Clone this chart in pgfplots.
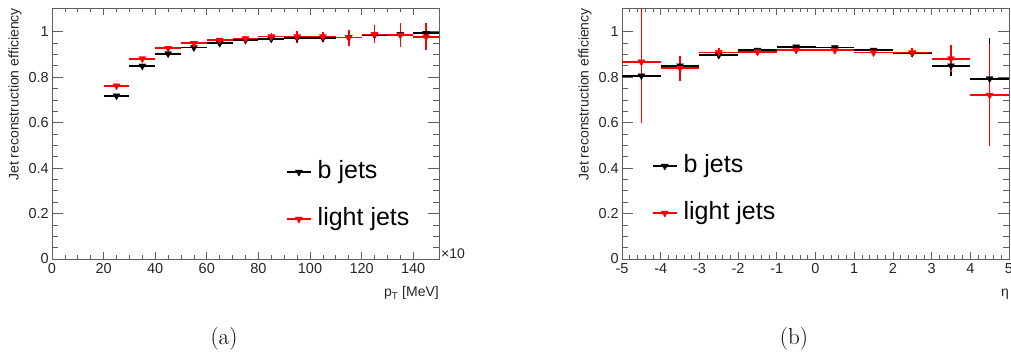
\documentclass[border=0pt]{standalone}
\usepackage{fontspec}
\usepackage{pgfplots}
\pgfplotsset{compat=1.18}
\newfontfamily\arial{Liberation Sans}
\definecolor{rootred}{RGB}{255,0,0}
\definecolor{axgray}{RGB}{95,95,95}

\pgfplotsset{
 rootaxis/.style={
   scale only axis, width=387pt, height=251pt,
   ymin=0, ymax=1.104,
   ytick={0,0.2,0.4,0.6,0.8,1}, yticklabels={\raisebox{2pt}{0},0.2,0.4,0.6,0.8,1},
   minor y tick num=3,
   tick pos=both, tick align=inside,
   axis line style={draw=axgray, line width=0.8pt},
   tick style={draw=axgray, line width=0.7pt},
   xtick style={/pgfplots/major tick length=7pt,/pgfplots/minor tick length=4pt},
   ytick style={/pgfplots/major tick length=11pt,/pgfplots/minor tick length=6pt},
   ticklabel style={font=\arial\fontsize{14.5}{14.5}\selectfont, text=black!85},
   yticklabel style={inner sep=0pt, xshift=-3pt},
   xticklabel style={inner sep=0pt, yshift=-4pt},
   ylabel style={at={(axis description cs:-0.0956,1)}, anchor=east, font=\arial\fontsize{14}{14}\selectfont, inner sep=0pt, text=black!85},
   xlabel style={at={(axis description cs:1,-0.151)}, anchor=base east, font=\arial\fontsize{14}{14}\selectfont, inner sep=0pt, text=black!85},
   legend style={draw=none, fill=none, font=\arial\fontsize{25}{25}\selectfont, anchor=north west, row sep=23pt, column sep=6pt, inner sep=0pt, outer sep=0pt,
      nodes={text height=18pt, text depth=6pt, inner sep=0pt}},
   legend cell align=left,
 },
 hbar/.style={draw=none, mark=none, forget plot,
   error bars/.cd, x dir=both, x explicit, y dir=none, error mark=none,
   error bar style={line width=1.6pt, draw=#1, solid}},
 vbar/.style={#1, mark=triangle*, mark size=4pt, mark options={rotate=180, fill=#1, draw=#1},
   only marks,
   legend image code/.code={\draw[draw=#1,line width=1.6pt] (0pt,0pt) -- (24pt,0pt); \fill[#1] (12pt,0pt) ++(-3.46pt,2pt) -- ++(6.93pt,0pt) -- ++(-3.46pt,-6pt) -- cycle;},
   error bars/.cd, x dir=none, y dir=both, y explicit, error mark=none,
   error bar style={line width=1.6pt, draw=#1, solid}},
}

\begin{document}
\begin{tikzpicture}
\useasboundingbox (0,0) rectangle (1011pt,360pt);

\pgfplotstableread{
x    y     ex  ey
25  0.718  5  0.004
35  0.849  5  0.005
45  0.903  5  0.005
55  0.930  5  0.005
65  0.949  5  0.006
75  0.963  5  0.006
85  0.968  5  0.007
95  0.972  5  0.008
105 0.971  5  0.009
115 0.975  5  0.010
125 0.985  5  0.011
135 0.988  5  0.012
145 0.993  5  0.013
}\bpt
\pgfplotstableread{
x    y     ex  ey
25  0.762  5  0.005
35  0.881  5  0.006
45  0.927  5  0.007
55  0.949  5  0.008
65  0.963  5  0.010
75  0.969  5  0.013
85  0.978  5  0.017
95  0.978  5  0.026
105 0.978  5  0.022
115 0.974  5  0.035
125 0.988  5  0.040
135 0.985  5  0.051
145 0.977  5  0.059
}\lpt
\pgfplotstableread{
x    y     ex   ey
-4.5 0.806 0.5 0.10
-3.5 0.850 0.5 0.03
-2.5 0.897 0.5 0.012
-1.5 0.919 0.5 0.008
-0.5 0.933 0.5 0.007
0.5  0.930 0.5 0.007
1.5  0.919 0.5 0.009
2.5  0.905 0.5 0.015
3.5  0.850 0.5 0.045
4.5  0.793 0.5 0.18
}\beta
\pgfplotstableread{
x    y     ex   ey
-4.5 0.867 0.5 0.27
-3.5 0.840 0.5 0.055
-2.5 0.909 0.5 0.02
-1.5 0.911 0.5 0.01
-0.5 0.919 0.5 0.01
0.5  0.918 0.5 0.01
1.5  0.908 0.5 0.012
2.5  0.908 0.5 0.021
3.5  0.881 0.5 0.06
4.5  0.721 0.5 0.224
}\leta

% ---------------- (a) pT ----------------
\begin{axis}[rootaxis, at={(52pt,101pt)}, anchor=south west,
  xmin=0, xmax=150,
  xtick={0,20,40,60,80,100,120,140}, xticklabels={0,20,40,60,80,100,120,140},
  minor x tick num=3,
  ylabel={Jet reconstruction efficiency},
  xlabel={p\textsubscript{T} [MeV]},
  legend style={at={(axis description cs:0.605,0.394)}},
]
\addplot[hbar=black] table[x=x,y=y,x error=ex] {\bpt};
\addplot[vbar=black] table[x=x,y=y,y error=ey] {\bpt};
\addlegendentry{b jets}
\addplot[hbar=rootred] table[x=x,y=y,x error=ex] {\lpt};
\addplot[vbar=rootred] table[x=x,y=y,y error=ey] {\lpt};
\addlegendentry{light jets}
\end{axis}
\node[anchor=west, font=\arial\fontsize{14}{14}\selectfont, text=black!85, inner sep=0pt] at (441pt,106pt) {×10};

% ---------------- (b) eta ----------------
\begin{axis}[rootaxis, at={(622pt,101pt)}, anchor=south west,
  xmin=-5, xmax=5,
  xtick={-5,-4,-3,-2,-1,0,1,2,3,4,5}, xticklabels={-5,-4,-3,-2,-1,0,1,2,3,4,5},
  minor x tick num=4,
  ylabel={Jet reconstruction efficiency},
  xlabel={η},
  legend style={at={(axis description cs:0.0775,0.418)}},
]
\addplot[hbar=black] table[x=x,y=y,x error=ex] {\beta};
\addplot[vbar=black] table[x=x,y=y,y error=ey] {\beta};
\addlegendentry{b jets}
\addplot[hbar=rootred] table[x=x,y=y,x error=ex] {\leta};
\addplot[vbar=rootred] table[x=x,y=y,y error=ey] {\leta};
\addlegendentry{light jets}
\end{axis}

\node[font=\fontsize{23}{23}\selectfont] at (224pt,21pt) {(a)};
\node[font=\fontsize{23}{23}\selectfont] at (794pt,21pt) {(b)};
\end{tikzpicture}
\end{document}
